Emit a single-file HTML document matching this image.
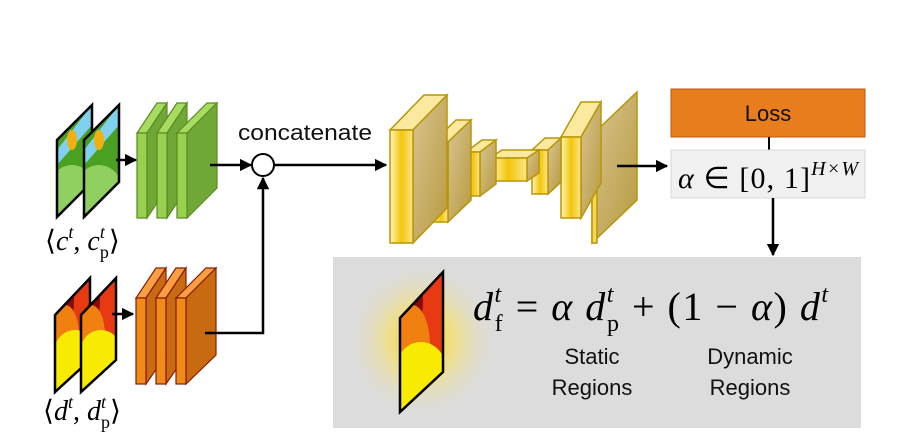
<!DOCTYPE html>
<html><head><meta charset="utf-8"><style>
html,body{margin:0;padding:0;background:#fff;}
svg{display:block;}
.m{font-family:"Liberation Serif",serif;font-style:italic;}
.s{font-family:"Liberation Sans",sans-serif;}
</style></head><body>
<svg width="907" height="448" viewBox="0 0 907 448" xmlns="http://www.w3.org/2000/svg">
<defs>
<marker id="ar" viewBox="0 0 10 10" refX="9" refY="5" markerWidth="5" markerHeight="5" orient="auto"><path d="M0,0L10,5L0,10z" fill="#000"/></marker>
<linearGradient id="gf" x1="0" x2="1" y1="0" y2="0"><stop offset="0" stop-color="#fff4b8"/><stop offset=".5" stop-color="#f2c60a"/><stop offset="1" stop-color="#fbe58a"/></linearGradient>
<linearGradient id="gs" x1="0" x2="1" y1="0" y2="1"><stop offset="0" stop-color="#d8c490"/><stop offset="1" stop-color="#b89a40"/></linearGradient>
<radialGradient id="glow"><stop offset="0" stop-color="#f7d21a"/><stop offset=".45" stop-color="#f3e07a" stop-opacity=".75"/><stop offset="1" stop-color="#dcdcdc" stop-opacity="0"/></radialGradient>
</defs>

<rect x="333" y="257" width="528" height="171" fill="#dcdcdc"/>
<ellipse cx="422" cy="340" rx="78" ry="80" fill="url(#glow)"/>
<g stroke="#000" stroke-width="2.5">
<clipPath id="c3"><polygon points="400,318 443,272 443,372 400,412"/></clipPath>
<g clip-path="url(#c3)" stroke="none">
<rect x="395" y="265" width="55" height="150" fill="#e83a12"/>
<ellipse cx="405" cy="300" rx="18" ry="40" fill="#8a0a0a"/>
<ellipse cx="412" cy="345" rx="18" ry="40" fill="#f08010"/>
<ellipse cx="421" cy="372" rx="26" ry="30" fill="#f8ea00"/>
<rect x="395" y="372" width="55" height="45" fill="#f8ea00"/>
</g>
<polygon points="400,318 443,272 443,372 400,412" fill="none"/>
</g>
<text class="m" x="473" y="320" font-size="40" textLength="355" lengthAdjust="spacing">d<tspan font-size="24" dy="-18">t</tspan><tspan font-size="24" dx="-8" dy="29" font-style="normal">f</tspan><tspan dy="-11" font-style="normal"> = </tspan>α d<tspan font-size="24" dy="-18">t</tspan><tspan font-size="24" dx="-8" dy="29" font-style="normal">p</tspan><tspan dy="-11" font-style="normal"> +  (1 − </tspan>α<tspan font-style="normal">) </tspan>d<tspan font-size="24" dy="-18">t</tspan></text>
<g class="s" font-size="22" fill="#111" text-anchor="middle">
<text x="592" y="364">Static</text><text x="592" y="395">Regions</text>
<text x="750" y="364">Dynamic</text><text x="750" y="395">Regions</text>
</g>

<rect x="671" y="89" width="194" height="48" fill="#e87d1e" stroke="#b85a10" stroke-width="1"/>
<text class="s" x="768" y="121" font-size="22" text-anchor="middle" fill="#111">Loss</text>
<line x1="769" y1="137" x2="769" y2="150" stroke="#000" stroke-width="2"/>
<rect x="671" y="150" width="194" height="48" fill="#f0f0f0" stroke="#d8d8d8" stroke-width="1"/>
<text class="m" x="678" y="188" font-size="30" textLength="180" lengthAdjust="spacing">α <tspan font-style="normal">∈ [0, 1]</tspan><tspan font-size="20" dy="-13">H×W</tspan></text>
<line x1="773" y1="198" x2="773" y2="255" stroke="#000" stroke-width="2.5" marker-end="url(#ar)"/>

<g stroke="#b8960a" stroke-width="1.5">
<polygon points="592,135 637,92 637,200 592,243" fill="url(#gs)"/>
<polygon points="592,135 597,135 597,243 592,243" fill="#f7d84a"/>
<polygon points="561,137 581,137 601,102 581,102" fill="#fbe9a0"/>
<polygon points="581,137 601,102 601,183 581,218" fill="url(#gs)"/>
<rect x="561" y="137" width="20" height="81" fill="url(#gf)"/>
<polygon points="532,150 548,150 561,138 545,138" fill="#fbe9a0"/>
<polygon points="548,150 561,138 561,182 548,194" fill="url(#gs)"/>
<rect x="532" y="150" width="16" height="44" fill="url(#gf)"/>
<polygon points="490,158 527,158 539,150 502,150" fill="#fbe9a0"/>
<polygon points="527,158 539,150 539,173 527,181" fill="url(#gs)"/>
<rect x="490" y="158" width="37" height="23" fill="url(#gf)"/>
<polygon points="466,152 480,152 496,140 482,140" fill="#fbe9a0"/>
<polygon points="480,152 496,140 496,184 480,196" fill="url(#gs)"/>
<rect x="466" y="152" width="14" height="44" fill="url(#gf)"/>
<polygon points="433,142 448,142 471,120 456,120" fill="#fbe9a0"/>
<polygon points="448,142 471,120 471,200 448,222" fill="url(#gs)"/>
<rect x="433" y="142" width="15" height="80" fill="url(#gf)"/>
<polygon points="390,130 413,130 447,95 424,95" fill="#fbe9a0"/>
<polygon points="413,130 447,95 447,208 413,243" fill="url(#gs)"/>
<rect x="390" y="130" width="23" height="113" fill="url(#gf)"/>
</g>
<line x1="617" y1="166" x2="667" y2="166" stroke="#000" stroke-width="2.5" marker-end="url(#ar)"/>

<g stroke="#000" stroke-width="2.5">
<clipPath id="c1"><polygon points="57,140 92,105 92,182 57,217"/></clipPath>
<g clip-path="url(#c1)" stroke="none"><rect x="50" y="100" width="50" height="120" fill="#4aa020"/><polygon points="57,150 92,105 92,125 57,165" fill="#80d0f0"/><ellipse cx="72" cy="195" rx="25" ry="30" fill="#8fd060"/><ellipse cx="72" cy="140" rx="5" ry="10" fill="#f0b010"/></g>
<polygon points="57,140 92,105 92,182 57,217" fill="none"/>
<clipPath id="c2"><polygon points="84,140 119,105 119,182 84,217"/></clipPath>
<g clip-path="url(#c2)" stroke="none"><rect x="77" y="100" width="50" height="120" fill="#4aa020"/><polygon points="84,150 119,105 119,125 84,165" fill="#80d0f0"/><ellipse cx="99" cy="195" rx="25" ry="30" fill="#8fd060"/><ellipse cx="99" cy="140" rx="5" ry="10" fill="#f0b010"/></g>
<polygon points="84,140 119,105 119,182 84,217" fill="none"/>
</g>
<g stroke="#000" stroke-width="2.5">
<clipPath id="c4"><polygon points="55,315 90,278 90,360 55,392"/></clipPath>
<g clip-path="url(#c4)" stroke="none"><rect x="50" y="270" width="45" height="130" fill="#e83a12"/><ellipse cx="60" cy="300" rx="14" ry="35" fill="#8a0a0a"/><ellipse cx="65" cy="335" rx="14" ry="30" fill="#f08010"/><ellipse cx="75" cy="355" rx="22" ry="25" fill="#f8ea00"/><rect x="50" y="355" width="45" height="45" fill="#f8ea00"/></g>
<polygon points="55,315 90,278 90,360 55,392" fill="none"/>
<clipPath id="c5"><polygon points="81,315 116,278 116,360 81,392"/></clipPath>
<g clip-path="url(#c5)" stroke="none"><rect x="76" y="270" width="45" height="130" fill="#e83a12"/><ellipse cx="86" cy="300" rx="14" ry="35" fill="#8a0a0a"/><ellipse cx="91" cy="335" rx="14" ry="30" fill="#f08010"/><ellipse cx="101" cy="355" rx="22" ry="25" fill="#f8ea00"/><rect x="76" y="355" width="45" height="45" fill="#f8ea00"/></g>
<polygon points="81,315 116,278 116,360 81,392" fill="none"/>
</g>

<g stroke="#5a8a20" stroke-width="1.2">
<polygon points="137,133 147,133 167,103 157,103" fill="#a8dc60"/><polygon points="147,133 167,103 167,188 147,218" fill="#70a838"/><rect x="137" y="133" width="10" height="85" fill="#98d050"/>
<polygon points="157,133 167,133 187,103 177,103" fill="#a8dc60"/><polygon points="167,133 187,103 187,188 167,218" fill="#70a838"/><rect x="157" y="133" width="10" height="85" fill="#98d050"/>
<polygon points="177,133 187,133 217,103 207,103" fill="#a8dc60"/><polygon points="187,133 217,103 217,188 187,218" fill="#70a838"/><rect x="177" y="133" width="10" height="85" fill="#98d050"/>
</g>
<g stroke="#8a1a0a" stroke-width="1.2">
<polygon points="136,298 146,298 166,268 156,268" fill="#f8a040"/><polygon points="146,298 166,268 166,355 146,384" fill="#c86a10"/><rect x="136" y="298" width="10" height="86" fill="#f08a18"/>
<polygon points="156,298 166,298 186,268 176,268" fill="#f8a040"/><polygon points="166,298 186,268 186,355 166,384" fill="#c86a10"/><rect x="156" y="298" width="10" height="86" fill="#f08a18"/>
<polygon points="176,298 186,298 216,268 206,268" fill="#f8a040"/><polygon points="186,298 216,268 216,355 186,384" fill="#c86a10"/><rect x="176" y="298" width="10" height="86" fill="#f08a18"/>
</g>

<g stroke="#000" stroke-width="2.5" fill="none">
<line x1="116" y1="160" x2="136" y2="160" marker-end="url(#ar)"/>
<line x1="112" y1="314" x2="133" y2="314" marker-end="url(#ar)"/>
<line x1="210" y1="165" x2="251" y2="165" marker-end="url(#ar)"/>
<polyline points="205,333 263,333 263,178" marker-end="url(#ar)"/>
<line x1="274" y1="165" x2="386" y2="165" marker-end="url(#ar)"/>
</g>
<circle cx="263" cy="165" r="11" fill="#fff" stroke="#000" stroke-width="2"/>
<text class="s" x="238" y="140" font-size="22" fill="#111" textLength="134" lengthAdjust="spacingAndGlyphs">concatenate</text>

<text class="m" x="45" y="250" font-size="28"><tspan font-style="normal">⟨</tspan>c<tspan font-size="18" dy="-12">t</tspan><tspan dy="12" font-style="normal">, </tspan>c<tspan font-size="18" dy="-12">t</tspan><tspan font-size="18" dx="-5" dy="20" font-style="normal">p</tspan><tspan dy="-8" font-style="normal">⟩</tspan></text>
<text class="m" x="43" y="420" font-size="28"><tspan font-style="normal">⟨</tspan>d<tspan font-size="18" dy="-12">t</tspan><tspan dy="12" font-style="normal">, </tspan>d<tspan font-size="18" dy="-12">t</tspan><tspan font-size="18" dx="-5" dy="20" font-style="normal">p</tspan><tspan dy="-8" font-style="normal">⟩</tspan></text>
</svg>
</body></html>
